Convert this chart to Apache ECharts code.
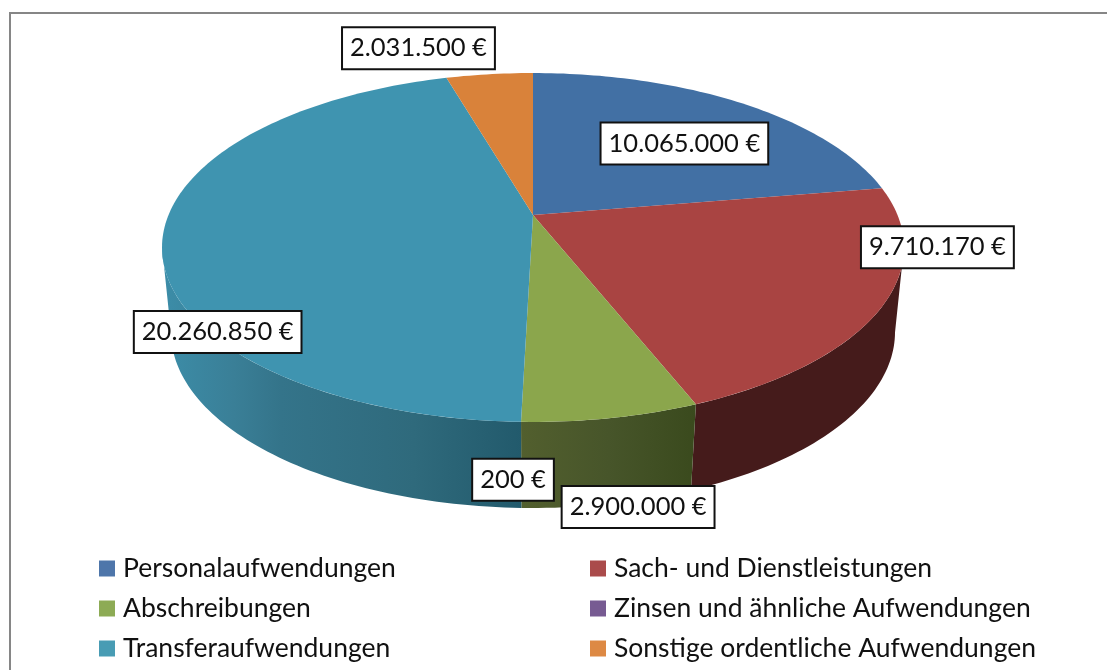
<!DOCTYPE html>
<html>
<head>
<meta charset="utf-8">
<title>Aufwendungen</title>
<style>
    html, body { margin: 0; padding: 0; background: #fff; overflow: hidden; }
    #main { width: 1107px; height: 670px; }
</style>
<script src="https://cdn.jsdelivr.net/npm/echarts@6/dist/echarts.min.js"></script>
</head>
<body>
<div id="main"></div>
<script>
var categories = ['Personalaufwendungen', 'Sach- und Dienstleistungen', 'Abschreibungen',
    'Zinsen und ähnliche Aufwendungen', 'Transferaufwendungen', 'Sonstige ordentliche Aufwendungen']
var values = [10065000, 9710170, 2900000, 200, 20260850, 2031500]
var valueLabels = ['10.065.000 €', '9.710.170 €', '2.900.000 €', '200 €', '20.260.850 €', '2.031.500 €']

var legendColors = ['#4e76aa', '#aa4b4b', '#8dab55', '#775b92', '#489cb4', '#dd8944']
var topColors = ['#4270a4', '#a94442', '#8ba64c', '#6f5590', '#3f94b0', '#d9823a']
var wallStops = [
    [{ offset: 0, color: '#2c4a6c' }, { offset: 1, color: '#2c4a6c' }],
    [{ offset: 0, color: '#451b1b' }, { offset: 1, color: '#451b1b' }],
    [{ offset: 0, color: '#525f2e' }, { offset: 0.5, color: '#47552a' }, { offset: 1, color: '#3a4a1d' }],
    [{ offset: 0, color: '#4a3a60' }, { offset: 1, color: '#4a3a60' }],
    [{ offset: 0, color: '#3c8da8' }, { offset: 0.2, color: '#3a7f97' }, { offset: 0.33, color: '#34748a' },
        { offset: 0.7, color: '#2f6a7c' }, { offset: 1, color: '#225a6c' }],
    [{ offset: 0, color: '#8a5226' }, { offset: 1, color: '#8a5226' }]
]
// label box offset from the middle of the slice's rim
var labelOffsets = [[-55, 41], [55, -59], [27, 89], [-8, 58], [55, 95], [-71, -26]]

// perspective of the two disc faces: apex, half sizes and foreshortening
var topFace = { x: 533, y: 215, a: 168.4, b: 364.5, k: 0.1862 }
var bottomFace = { x: 533, y: 300.3, a: 170.3, b: 356.1, k: 0.18 }
// the wall only shows between the two silhouette tangents
var wallFrom = 100.5 * Math.PI / 180
var wallTo = 259.5 * Math.PI / 180

var total = values.reduce(function (s, v) { return s + v }, 0)

function project(face, theta) {
    var u = Math.sin(theta)
    var v = -Math.cos(theta)
    var w = 1 - face.k * v
    return [face.x + face.b * u / w, face.y + face.a * v / w]
}

function arc(face, from, to) {
    var n = Math.max(2, Math.ceil((to - from) / 0.02))
    var pts = []
    for (var j = 0; j <= n; j++) {
        pts.push(project(face, from + (to - from) * j / n))
    }
    return pts
}

function makeRenderItem(index) {
    var before = values.slice(0, index).reduce(function (s, v) { return s + v }, 0)
    return function (params, api) {
        var from = before / total * Math.PI * 2
        var to = (before + api.value(0)) / total * Math.PI * 2
        var rim = project(topFace, (from + to) / 2)
        var off = labelOffsets[index]
        var children = [
            {
                type: 'polygon',
                z2: 5,
                shape: { points: [[topFace.x, topFace.y]].concat(arc(topFace, from, to)) },
                style: { fill: topColors[index] }
            },
            {
                type: 'text',
                z2: 10,
                style: {
                    x: rim[0] + off[0],
                    y: rim[1] + off[1],
                    text: valueLabels[index],
                    font: '25.5px Lato',
                    fill: '#111',
                    align: 'center',
                    verticalAlign: 'middle',
                    backgroundColor: '#fff',
                    borderColor: '#111',
                    borderWidth: 2,
                    padding: [7, 7, 7, 7]
                }
            }
        ]
        var wallStart = Math.max(from, wallFrom)
        var wallEnd = Math.min(to, wallTo)
        if (wallEnd > wallStart) {
            var outline = arc(topFace, wallStart, wallEnd).concat(arc(bottomFace, wallStart, wallEnd).reverse())
            var xs = outline.map(function (p) { return p[0] })
            children.push({
                type: 'polygon',
                z2: 1,
                shape: { points: outline },
                style: {
                    fill: new echarts.graphic.LinearGradient(
                        Math.min.apply(null, xs), 0, Math.max.apply(null, xs), 0, wallStops[index], true)
                }
            })
        }
        return { type: 'group', children: children }
    }
}

var chart = echarts.init(document.getElementById('main'))

var legendBase = {
    orient: 'vertical',
    top: 553,
    icon: 'rect',
    itemWidth: 16,
    itemHeight: 16,
    itemGap: 9,
    selectedMode: false,
    padding: 0,
    textStyle: { fontFamily: 'Lato', fontSize: 26.5, color: '#111', lineHeight: 31, padding: [0, 0, 0, 3] }
}

chart.setOption({
    animation: false,
    backgroundColor: '#fff',
    graphic: [{
        type: 'polyline',
        silent: true,
        z: 0,
        shape: { points: [[10, 670], [10, 13], [1107, 13]] },
        style: { fill: 'none', stroke: '#868686', lineWidth: 2 }
    }],
    legend: [
        Object.assign({}, legendBase, { left: 99, data: [categories[0], categories[2], categories[4]] }),
        Object.assign({}, legendBase, { left: 590, data: [categories[1], categories[3], categories[5]] })
    ],
    series: categories.map(function (name, i) {
        return {
            type: 'custom',
            name: name,
            coordinateSystem: 'none',
            itemStyle: { color: legendColors[i] },
            renderItem: makeRenderItem(i),
            data: [[values[i]]]
        }
    })
})
</script>
</body>
</html>
